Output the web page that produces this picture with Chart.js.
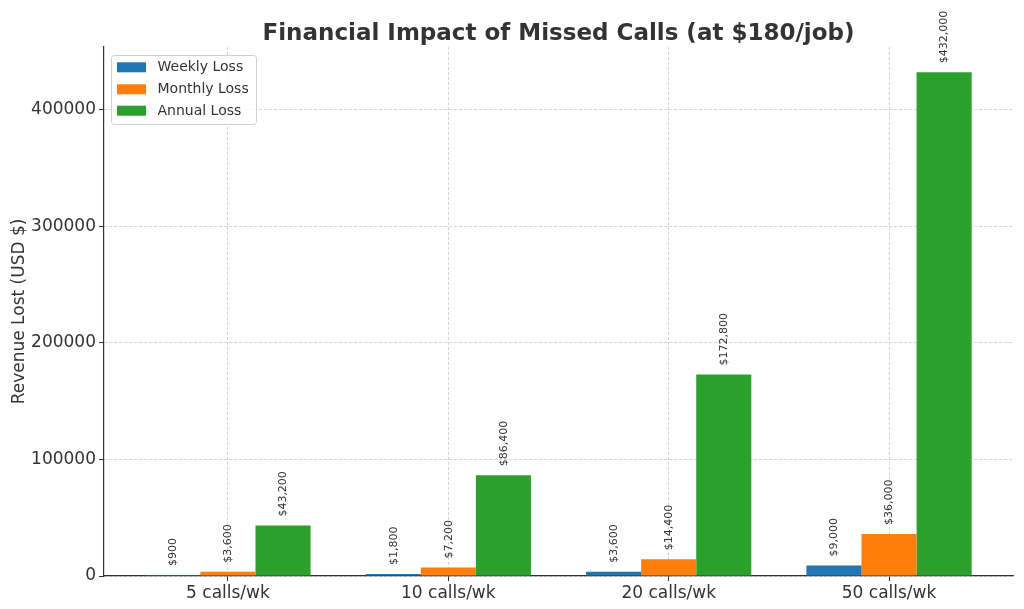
<!DOCTYPE html>
<html>
<head>
<meta charset="utf-8">
<script src="https://cdn.jsdelivr.net/npm/chart.js@4/dist/chart.umd.min.js"></script>
<style>
html,body{margin:0;padding:0;background:#fff;}
#wrap{width:1024px;height:609px;position:relative;}
</style>
</head>
<body>
<div id="wrap"><canvas id="c" width="1024" height="609"></canvas></div>
<script>
const categories = ["5 calls/wk", "10 calls/wk", "20 calls/wk", "50 calls/wk"];
const weeklyLoss = [900, 1800, 3600, 9000];
const monthlyLoss = [3600, 7200, 14400, 36000];
const annualLoss = [43200, 86400, 172800, 432000];
const yTicks = [0, 100000, 200000, 300000, 400000];
const seriesNames = ["Weekly Loss", "Monthly Loss", "Annual Loss"];
const seriesColors = ["#1f77b4", "#ff7f0e", "#2ca02c"];
const titleText = "Financial Impact of Missed Calls (at $180/job)";
const yTitle = "Revenue Lost (USD $)";

const FONT = "'DejaVu Sans', sans-serif";
const TXT = "#333333";

function toPts(arr){ return arr.map((v,i)=>({x:i, y:v})); }

const allSeries = [weeklyLoss, monthlyLoss, annualLoss];
const datasets = allSeries.map((arr, k) => ({
  label: seriesNames[k],
  data: toPts(arr),
  backgroundColor: seriesColors[k],
  borderWidth: 0,
  categoryPercentage: 0.75,
  barPercentage: 1.0,
  grouped: true
}));

const yMax = Math.max(...annualLoss) * 1.05;

const labelPlugin = {
  id: 'barLabels',
  afterDatasetsDraw(chart){
    const ctx = chart.ctx;
    ctx.save();
    ctx.font = "11px " + FONT;
    ctx.fillStyle = TXT;
    ctx.textAlign = 'left';
    ctx.textBaseline = 'middle';
    chart.data.datasets.forEach((ds, di) => {
      const meta = chart.getDatasetMeta(di);
      meta.data.forEach((bar, i) => {
        const v = ds.data[i].y;
        const txt = "$" + v.toLocaleString('en-US');
        ctx.save();
        ctx.translate(bar.x + 0.5, bar.y - 9);
        ctx.rotate(-Math.PI/2);
        ctx.fillText(txt, 0, 0);
        ctx.restore();
      });
    });
    ctx.restore();
  }
};

const decorPlugin = {
  id: 'decor',
  afterDraw(chart){
    const ctx = chart.ctx;
    const ca = chart.chartArea;
    // title
    ctx.save();
    ctx.font = "bold 23px " + FONT;
    ctx.fillStyle = TXT;
    ctx.textAlign = 'center';
    ctx.textBaseline = 'alphabetic';
    ctx.fillText(titleText, (ca.left + ca.right)/2, 40);
    ctx.restore();
    // legend
    ctx.save();
    const lx = 111.5, ly = 55.5, lw = 145, lh = 69, r = 3;
    ctx.beginPath();
    ctx.moveTo(lx + r, ly);
    ctx.lineTo(lx + lw - r, ly);
    ctx.arcTo(lx + lw, ly, lx + lw, ly + r, r);
    ctx.lineTo(lx + lw, ly + lh - r);
    ctx.arcTo(lx + lw, ly + lh, lx + lw - r, ly + lh, r);
    ctx.lineTo(lx + r, ly + lh);
    ctx.arcTo(lx, ly + lh, lx, ly + lh - r, r);
    ctx.lineTo(lx, ly + r);
    ctx.arcTo(lx, ly, lx + r, ly, r);
    ctx.closePath();
    ctx.fillStyle = "rgba(255,255,255,0.8)";
    ctx.fill();
    ctx.strokeStyle = "#d0d0d0";
    ctx.lineWidth = 1;
    ctx.stroke();
    const rows = [67.3, 89.3, 110.7];
    ctx.font = "14px " + FONT;
    ctx.textAlign = 'left';
    ctx.textBaseline = 'middle';
    seriesNames.forEach((n, k) => {
      ctx.fillStyle = seriesColors[k];
      ctx.fillRect(117, rows[k] - 5, 29, 10);
      ctx.fillStyle = TXT;
      ctx.fillText(n, 157.5, rows[k] + 0.5);
    });
    ctx.restore();
  }
};

new Chart(document.getElementById('c'), {
  type: 'bar',
  data: { datasets },
  plugins: [labelPlugin, decorPlugin],
  options: {
    responsive: false,
    animation: false,
    devicePixelRatio: 1,
    layout: { padding: { top: 47, right: 11, left: 0, bottom: 0 } },
    plugins: {
      legend: { display: false },
      title: { display: false },
      tooltip: { enabled: false }
    },
    scales: {
      x: {
        type: 'linear',
        min: -0.5625,
        max: 3.5625,
        offset: false,
        afterBuildTicks(scale){ scale.ticks = categories.map((c,i)=>({value:i})); },
        afterFit(scale){ scale.height = 33; },
        ticks: {
          autoSkip: false,
          maxRotation: 0,
          padding: 2,
          color: TXT,
          font: { family: FONT, size: 17 },
          callback: (v) => categories[v] !== undefined ? categories[v] : ''
        },
        grid: {
          offset: false,
          color: '#c8c8c8',
          lineWidth: 0.8,
          drawTicks: true,
          tickLength: 5,
          tickColor: '#333',
          tickWidth: 1
        },
        border: { display: true, color: '#333', width: 1.2, dash: [3, 2] }
      },
      y: {
        min: 0,
        max: yMax,
        afterBuildTicks(scale){ scale.ticks = yTicks.map(v=>({value:v})); },
        afterFit(scale){ scale.width = 104; },
        ticks: {
          padding: 3,
          color: TXT,
          font: { family: FONT, size: 17 },
          callback: (v) => String(v)
        },
        title: {
          display: true,
          text: yTitle,
          color: TXT,
          font: { family: FONT, size: 17 },
          padding: { top: 9, bottom: 4 }
        },
        grid: {
          color: '#c8c8c8',
          lineWidth: 0.8,
          drawTicks: true,
          tickLength: 5,
          tickColor: '#333',
          tickWidth: 1
        },
        border: { display: true, color: '#333', width: 1.2, dash: [3, 2] }
      }
    }
  }
});
</script>
</body>
</html>
